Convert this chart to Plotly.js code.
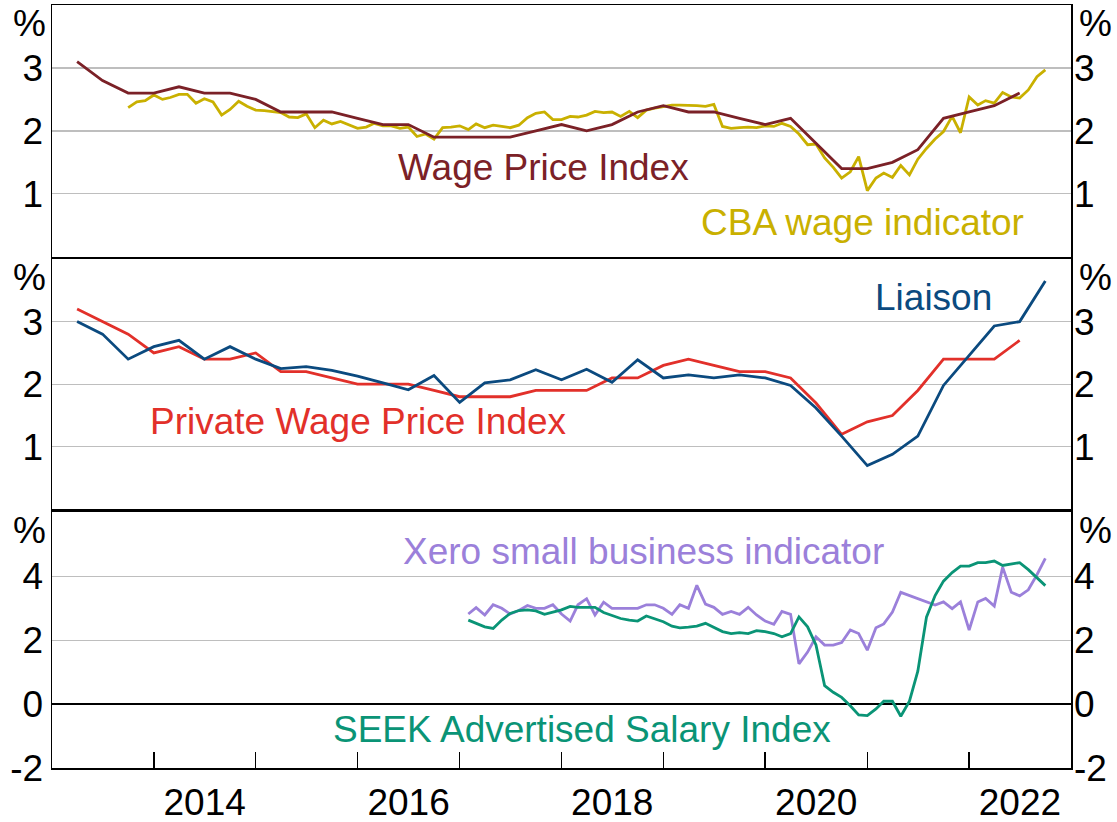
<!DOCTYPE html>
<html>
<head>
<meta charset="utf-8">
<script src="https://cdn.plot.ly/plotly-3.0.1.min.js"></script>
<style>html,body{margin:0;padding:0;background:#fff}#chart{width:1117px;height:822px}</style>
</head>
<body>
<div id="chart"></div>
<script>
// ---------- data ----------
// Wage Price Index, year-ended %, quarterly, first point 2013-04
const wpiStart = '2013-04';
const wpi = [3.1,2.8,2.6, 2.6,2.7,2.6,2.6, 2.5,2.3,2.3,2.3, 2.2,2.1,2.1,1.9, 1.9,1.9,1.9,2.0,
             2.1,2.0,2.1,2.3, 2.4,2.3,2.3,2.2, 2.1,2.2,1.8,1.4, 1.4,1.5,1.7,2.2, 2.3,2.4,2.6];
// CBA wage indicator, monthly, first point 2013-10
const cbaStart = '2013-10';
const cba = [2.37,2.46,2.48,
  2.57,2.50,2.53,2.58,2.58,2.44,2.51,2.46,2.25,2.34,2.47,2.39,
  2.33,2.32,2.31,2.29,2.22,2.21,2.27,2.05,2.17,2.11,2.15,2.10,
  2.04,2.06,2.12,2.08,2.08,2.04,2.06,1.91,1.95,1.87,2.05,2.06,
  2.08,2.02,2.11,2.05,2.09,2.07,2.05,2.09,2.21,2.28,2.30,2.18,
  2.18,2.23,2.22,2.25,2.31,2.29,2.30,2.23,2.31,2.21,2.33,2.36,
  2.39,2.41,2.41,2.41,2.40,2.39,2.42,2.07,2.04,2.05,2.06,2.05,
  2.08,2.07,2.12,2.07,1.95,1.78,1.79,1.57,1.42,1.25,1.35,1.59,
  1.05,1.25,1.33,1.26,1.45,1.30,1.55,1.72,1.87,1.99,2.23,1.97,
  2.54,2.41,2.48,2.44,2.61,2.54,2.52,2.65,2.86,2.97];
// Private Wage Price Index, quarterly, first point 2013-04
const pwpiStart = '2013-04';
const pwpi = [3.2,3.0,2.8, 2.5,2.6,2.4,2.4, 2.5,2.2,2.2,2.1, 2.0,2.0,2.0,1.9, 1.8,1.8,1.8,1.9,
              1.9,1.9,2.1,2.1, 2.3,2.4,2.3,2.2, 2.2,2.1,1.7,1.2, 1.4,1.5,1.9,2.4, 2.4,2.4,2.7];
// Liaison, quarterly, first point 2013-04
const liaisonStart = '2013-04';
const liaison = [3.0,2.8,2.4, 2.6,2.7,2.4,2.6, 2.4,2.25,2.28,2.22, 2.13,2.02,1.91,2.14,
                 1.71,2.02,2.07,2.23, 2.07,2.24,2.03,2.39, 2.10,2.15,2.10,2.15,
                 2.10,1.98,1.62,1.17, 0.70,0.88,1.17,1.98, 2.46,2.93,3.0,3.65];
// Xero small business indicator, monthly, first point 2017-02 (null = no observation)
const xeroStart = '2017-02';
const xero = [2.82,3.02,2.79,3.11,3.00,2.82,2.93,3.09,3.00,3.00,3.11,
  2.82,2.60,3.11,3.30,2.79,3.19,3.00,3.00,3.00,3.00,3.11,3.11,
  3.00,2.81,3.11,3.00,3.72,3.13,3.03,2.81,2.90,2.81,3.03,2.79,
  2.60,2.50,2.90,2.81,1.26,1.63,2.11,1.85,1.85,1.93,2.32,2.21,
  1.69,2.39,2.51,2.88,3.50,null,null,null,3.10,3.20,2.99,3.20,
  2.32,3.20,3.31,3.07,4.29,3.50,3.39,3.58,4.05,4.56];
// SEEK Advertised Salary Index, monthly, first point 2017-02
const seekStart = '2017-02';
const seek = [2.63,2.53,2.42,2.37,2.63,2.84,2.93,2.95,2.92,2.81,2.87,
  2.95,3.06,3.03,3.03,3.03,2.87,2.77,2.68,2.63,2.60,2.76,2.68,
  2.58,2.44,2.39,2.41,2.44,2.53,2.40,2.27,2.21,2.24,2.21,2.30,
  2.27,2.21,2.11,2.21,2.73,2.42,1.85,0.58,0.37,0.21,-0.05,-0.34,
  -0.36,-0.15,0.09,0.09,-0.38,0.09,1.03,2.72,3.40,3.85,4.12,4.32,
  4.32,4.43,4.43,4.48,4.34,4.39,4.43,4.21,3.95,3.71];

const seriesNames = ['Wage Price Index','CBA wage indicator','Private Wage Price Index','Liaison',
                     'Xero small business indicator','SEEK Advertised Salary Index'];
const yearTicks = ['2014','2015','2016','2017','2018','2019','2020','2021','2022'];
const yearLabels = ['2014','2016','2018','2020','2022'];
const panel12Ticks = [1,2,3];
const panel3Ticks = [-2,0,2,4];
const unitLabel = '%';

// ---------- helpers ----------
function dates(start, n, step) {
  let [y, m] = start.split('-').map(Number);
  const out = [];
  for (let i = 0; i < n; i++) {
    out.push(y + '-' + String(m).padStart(2, '0') + '-01');
    m += step;
    while (m > 12) { m -= 12; y += 1; }
  }
  return out;
}

const COL = {wpi:'#7B2127', cba:'#C9B000', pwpi:'#E2302A', liaison:'#0B4A7F', xero:'#9B80DA', seek:'#0A9476'};
const FONT = 'Liberation Sans, Arial, sans-serif';
const FS = 37;
const LW = 2.8;

function line(x, y, color, xa, ya, name) {
  return {type:'scatter', mode:'lines', x:x, y:y, xaxis:xa, yaxis:ya, name:name,
          connectgaps:true, line:{color:color, width:LW}, hoverinfo:'skip'};
}
// empty helper trace so that overlay axes (right-hand labels, year labels) are drawn
function holder(xa, ya) {
  return {type:'scatter', mode:'lines', x:[cbaStart + '-01'], y:[null], xaxis:xa, yaxis:ya,
          hoverinfo:'skip', showlegend:false};
}

const traces = [
  line(dates(cbaStart, cba.length, 1), cba, COL.cba, 'x', 'y', seriesNames[1]),
  line(dates(wpiStart, wpi.length, 3), wpi, COL.wpi, 'x', 'y', seriesNames[0]),
  line(dates(pwpiStart, pwpi.length, 3), pwpi, COL.pwpi, 'x2', 'y2', seriesNames[2]),
  line(dates(liaisonStart, liaison.length, 3), liaison, COL.liaison, 'x2', 'y2', seriesNames[3]),
  line(dates(xeroStart, xero.length, 1), xero, COL.xero, 'x3', 'y3', seriesNames[4]),
  line(dates(seekStart, seek.length, 1), seek, COL.seek, 'x3', 'y3', seriesNames[5]),
  holder('x', 'y4'), holder('x2', 'y5'), holder('x3', 'y6'), holder('x4', 'y3')
];

const XR = ['2013-01-01', '2023-01-01'];
function xax(anchor, extra) {
  return Object.assign({type:'date', range:XR, anchor:anchor, showline:true, mirror:true,
    linecolor:'#000', linewidth:1.5, showgrid:false, zeroline:false, ticks:'',
    showticklabels:false, fixedrange:true}, extra || {});
}
function yax(domain, range, tv, extra) {
  return Object.assign({domain:domain, range:range, tickvals:tv, ticktext:tv.map(String),
    showgrid:true, gridcolor:'#BEBEBE', gridwidth:1.3, zeroline:false,
    showline:true, mirror:true, linecolor:'#000', linewidth:1.5, ticks:'',
    tickfont:{family:FONT, size:FS, color:'#000'}, ticklabelstandoff:0, fixedrange:true}, extra || {});
}
function yright(over, anchor, range, tv) {
  return {overlaying:over, side:'right', anchor:anchor, range:range, tickvals:tv, ticktext:tv.map(String),
    showgrid:false, showline:false, zeroline:false, ticks:'',
    tickfont:{family:FONT, size:FS, color:'#000'}, ticklabelstandoff:2, fixedrange:true};
}

const D1 = [0.6701, 1], D2 = [0.3389, 0.6671], D3 = [0, 0.3349];

function pct(yref) {
  return [
    {xref:'paper', yref:yref, x:0, y:1, xanchor:'right', yanchor:'middle', xshift:-4, yshift:-18,
     text:unitLabel, showarrow:false, font:{family:FONT, size:FS, color:'#000'}},
    {xref:'paper', yref:yref, x:1, y:1, xanchor:'left', yanchor:'middle', xshift:6, yshift:-18,
     text:unitLabel, showarrow:false, font:{family:FONT, size:FS, color:'#000'}}
  ];
}
function lab(text, x, y, xr, yr, color) {
  return {xref:xr, yref:yr, x:x, y:y, xanchor:'center', yanchor:'middle', text:text,
          showarrow:false, font:{family:FONT, size:FS, color:color}};
}

const layout = {
  width:1117, height:822,
  margin:{l:52, r:46, t:5, b:54},
  paper_bgcolor:'#fff', plot_bgcolor:'#fff',
  showlegend:false, hovermode:false,
  font:{family:FONT, size:FS, color:'#000'},
  xaxis: xax('y'),
  xaxis2: xax('y2'),
  xaxis3: xax('y3', {tickvals:yearTicks.map(y => y + '-01-01'), ticks:'inside', ticklen:16,
                     tickwidth:1.5, tickcolor:'#000'}),
  xaxis4: {type:'date', range:XR, overlaying:'x3', anchor:'y3', side:'bottom', showline:false, showgrid:false,
           zeroline:false, ticks:'', tickvals:yearLabels.map(y => y + '-07-02'), ticktext:yearLabels,
           tickfont:{family:FONT, size:FS, color:'#000'}, ticklabelstandoff:9, fixedrange:true},
  yaxis: yax(D1, [0, 4], panel12Ticks, {anchor:'x'}),
  yaxis2: yax(D2, [0, 4], panel12Ticks, {anchor:'x2'}),
  yaxis3: yax(D3, [-2, 6], panel3Ticks, {anchor:'x3', zeroline:true, zerolinecolor:'#000', zerolinewidth:1.5}),
  yaxis4: yright('y', 'x', [0, 4], panel12Ticks),
  yaxis5: yright('y2', 'x2', [0, 4], panel12Ticks),
  yaxis6: yright('y3', 'x3', [-2, 6], panel3Ticks),
  annotations: [].concat(
    pct('y domain'), pct('y2 domain'), pct('y3 domain'),
    [
      lab(seriesNames[0], '2017-10-30', 1.42, 'x', 'y', COL.wpi),
      lab(seriesNames[1], '2020-12-13', 0.55, 'x', 'y', COL.cba),
      lab(seriesNames[3], '2021-08-25', 3.39, 'x2', 'y2', COL.liaison),
      lab(seriesNames[2], '2016-01-04', 1.41, 'x2', 'y2', COL.pwpi),
      lab(seriesNames[4], '2018-10-23', 4.77, 'x3', 'y3', COL.xero),
      lab(seriesNames[5], '2018-03-17', -0.78, 'x3', 'y3', COL.seek)
    ])
};

Plotly.newPlot('chart', traces, layout, {displayModeBar:false, staticPlot:true});
</script>
</body>
</html>
